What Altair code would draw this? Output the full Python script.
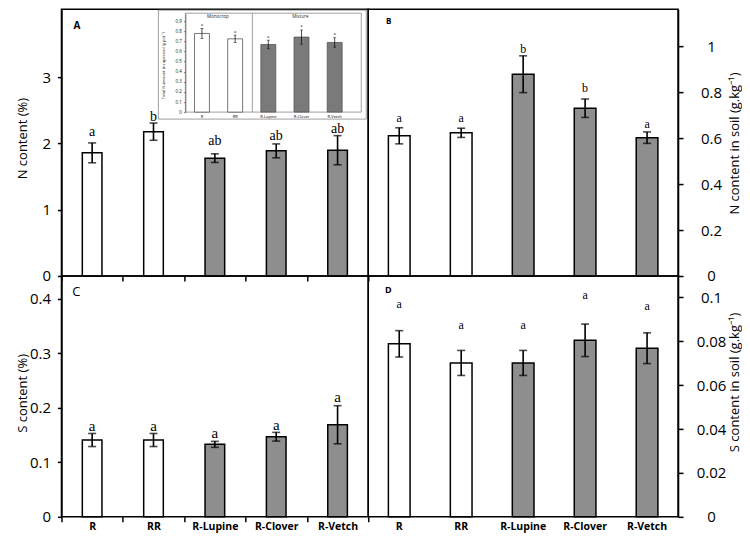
import altair as alt
import pandas as pd

cats = ["R", "RR", "R-Lupine", "R-Clover", "R-Vetch"]
groups = ["Monocrop", "Monocrop", "Mixture", "Mixture", "Mixture"]

# Panel A: N content (%)
n_pct = [1.86, 2.18, 1.78, 1.89, 1.90]
n_pct_se = [0.15, 0.13, 0.065, 0.105, 0.22]
n_pct_letters = ["a", "b", "ab", "ab", "ab"]
n_pct_letter_y = [2.12, 2.34, 1.98, 2.06, 2.16]

# Panel B: N content in soil (g.kg-1)
n_soil = [0.61, 0.623, 0.878, 0.73, 0.602]
n_soil_se = [0.035, 0.02, 0.08, 0.04, 0.025]
n_soil_letters = ["a", "a", "b", "b", "a"]
n_soil_letter_y = [0.672, 0.672, 0.97, 0.80, 0.645]

# Panel C: S content (%)
s_pct = [0.141, 0.141, 0.133, 0.147, 0.169]
s_pct_se = [0.012, 0.012, 0.0055, 0.008, 0.035]
s_pct_letters = ["a", "a", "a", "a", "a"]
s_pct_letter_y = [0.158, 0.158, 0.144, 0.159, 0.21]

# Panel D: S content in soil (g.kg-1)
s_soil = [0.0788, 0.0701, 0.0701, 0.0804, 0.0768]
s_soil_se = [0.006, 0.0057, 0.0057, 0.0074, 0.007]
s_soil_letters = ["a", "a", "a", "a", "a"]
s_soil_letter_y = [0.0953, 0.0854, 0.0854, 0.0991, 0.0942]

# Inset: total N amount (g.pot-1)
n_total = [0.779, 0.726, 0.67, 0.743, 0.69]
n_total_se = [0.05, 0.037, 0.043, 0.07, 0.047]
n_total_letters = ["a", "a", "a", "a", "a"]
n_total_letter_y = [0.86, 0.795, 0.74, 0.855, 0.77]

# ticks
a_ticks = [0, 1, 2, 3]
b_ticks = [0, 0.2, 0.4, 0.6, 0.8, 1]
c_ticks = [0, 0.1, 0.2, 0.3, 0.4]
d_ticks = [0, 0.02, 0.04, 0.06, 0.08, 0.1]
inset_ticks = [0, 0.1, 0.2, 0.3, 0.4, 0.5, 0.6, 0.7, 0.8, 0.9]

W_L, W_R = 307, 310
H_T, H_B = 267, 241
FONT = "Open Sans"
SERIF = "Liberation Serif"


def make_df(vals, se, letters, ly):
    return pd.DataFrame({
        "cat": cats, "grp": groups, "val": vals,
        "lo": [v - s for v, s in zip(vals, se)],
        "hi": [v + s for v, s in zip(vals, se)],
        "letter": letters, "ly": ly,
    })


def bar_layers(df, xe, ye, fill_range, bar_stroke, bar_sw, err_sw, cap_size,
               letter_fs, letter_baseline="alphabetic", band_frac=None):
    base = alt.Chart(df)
    if band_frac is None:
        bar_mark = base.mark_bar(stroke=bar_stroke, strokeWidth=bar_sw)
    else:
        bar_mark = base.mark_bar(stroke=bar_stroke, strokeWidth=bar_sw,
                                 width=alt.RelativeBandSize(band_frac))
    bars = bar_mark.encode(
        x=xe(), y=ye("val"),
        fill=alt.Fill("grp:N", scale=alt.Scale(domain=["Monocrop", "Mixture"],
                                               range=fill_range), legend=None))
    err = base.mark_rule(color="black", strokeWidth=err_sw).encode(
        x=xe(), y=ye("lo"), y2="hi:Q")
    cap1 = base.mark_tick(color="black", thickness=err_sw, size=cap_size,
                          orient="horizontal").encode(x=xe(), y=ye("lo"))
    cap2 = base.mark_tick(color="black", thickness=err_sw, size=cap_size,
                          orient="horizontal").encode(x=xe(), y=ye("hi"))
    txt = base.mark_text(font=SERIF, fontSize=letter_fs, baseline=letter_baseline,
                         color="black").encode(x=xe(), y=ye("ly"), text="letter:N")
    return [bars, err, cap1, cap2, txt]


def left_axis(values, title, title_y):
    return alt.Axis(orient="left", values=values, format="~g", title=title,
                    titleX=-39, titleY=title_y,
                    titleAngle=270, titleAlign="center", titleBaseline="middle",
                    titleFont=FONT, titleFontSize=13, titleFontWeight="normal",
                    titleColor="black", labelFont=FONT, labelFontSize=15,
                    labelColor="black", labelPadding=7, tickSize=4, tickColor="black",
                    tickWidth=1.5, domainColor="black", domainWidth=1.5, grid=False,
                    labelFlush=False, labelOverlap=False)


def right_axis(values, title, title_y):
    return alt.Axis(orient="right", values=values, format="~g", title=title,
                    titleX=56, titleY=title_y,
                    titleAngle=270, titleAlign="center", titleBaseline="middle",
                    titleFont=FONT, titleFontSize=13, titleFontWeight="normal",
                    titleColor="black", labelFont=FONT, labelFontSize=15,
                    labelColor="black", labelAlign="center", labelPadding=28,
                    tickSize=5, tickColor="black", tickWidth=1.5, domainColor="black",
                    domainWidth=1.5, grid=False, labelFlush=False, labelOverlap=False)


def panel(df, W, H, ydom, yaxis, xaxis, frac, letter_fs, label, lx, ly, lfs, lweight):
    def xe():
        return alt.X("cat:N", sort=cats, title=None, axis=xaxis,
                     scale=alt.Scale(domain=cats, paddingInner=0, paddingOuter=0))

    def ye(f):
        return alt.Y(f + ":Q", axis=yaxis,
                     scale=alt.Scale(domain=ydom, nice=False, zero=True))

    layers = bar_layers(df, xe, ye, ["white", "#8e8e8e"], "black", 1.5, 1.6, 8,
                        letter_fs, band_frac=frac)
    lab = alt.Chart(pd.DataFrame({"t": [label]})).mark_text(
        font=FONT, fontSize=lfs, fontWeight=lweight, align="center", baseline="middle",
        color="black").encode(x=alt.value(lx), y=alt.value(ly), text="t:N")
    return layers + [lab]


x_ticks_only = alt.Axis(orient="bottom", labels=False, ticks=True, tickBand="extent",
                        tickSize=5, tickColor="black", tickWidth=1.5, domain=False,
                        grid=False, title=None)
x_labels_c = alt.Axis(orient="bottom", labels=True, labelAngle=0, labelFont=FONT,
                      labelFontSize=10.5, labelFontWeight="bold", labelColor="black",
                      labelPadding=0, ticks=True, tickBand="extent", tickSize=5,
                      tickColor="black", tickWidth=1.5, domain=False, grid=False,
                      title=None, labelOverlap=False)
x_labels_d = alt.Axis(orient="bottom", labels=True, labelAngle=0, labelFont=FONT,
                      labelFontSize=10.5, labelFontWeight="bold", labelColor="black",
                      labelPadding=5, ticks=False, domain=False, grid=False,
                      title=None, labelOverlap=False)

# ---- Panel A with inset ----
dfA = make_df(n_pct, n_pct_se, n_pct_letters, n_pct_letter_y)
mainA = panel(dfA, W_L, H_T, [0, 4.03], left_axis(a_ticks, "N content (%)", 129),
              x_ticks_only, 0.32, 14, "A", 15.5, 17, 10, "bold")

dfI = make_df(n_total, n_total_se, n_total_letters, n_total_letter_y)


def xi():
    return alt.X("cat:N", sort=cats, title=None,
                 scale=alt.Scale(domain=cats, range=[124, 290], paddingInner=0.55,
                                 paddingOuter=0.275),
                 axis=alt.Axis(orient="bottom", offset=-(H_T - 103), labelFont=FONT,
                               labelFontSize=4, labelAngle=0, labelColor="black",
                               labelPadding=2, ticks=False, domain=False, grid=False,
                               title=None, zindex=1, labelOverlap=False))


def yi(f):
    return alt.Y(f + ":Q",
                 scale=alt.Scale(domain=[0, 0.98], range=[103, 4], nice=False, zero=True),
                 axis=alt.Axis(orient="left", offset=-124, values=inset_ticks,
                               format="~g",
                               labelFont=FONT, labelFontSize=4.5, labelColor="#222",
                               labelPadding=2, tickSize=2, tickColor="#666",
                               domainColor="#666", domainWidth=0.8, tickWidth=0.8,
                               grid=False, zindex=1, labelFlush=False,
                               labelOverlap=False,
                               title="Total N amount in rapeseed (g.pot⁻¹)",
                               titleFont=FONT, titleFontSize=4, titleFontWeight="normal",
                               titleColor="#222", titleAngle=270, titleAlign="center",
                               titleBaseline="middle", titleX=-22, titleY=56))


one = pd.DataFrame({"k": [0]})
outer = alt.Chart(one).mark_rect(fill="white", stroke="#888", strokeWidth=0.8).encode(
    x=alt.value(97), x2=alt.value(305), y=alt.value(1), y2=alt.value(110))
inner = alt.Chart(one).mark_rect(fill="white", stroke="#888", strokeWidth=0.8).encode(
    x=alt.value(124), x2=alt.value(300), y=alt.value(4), y2=alt.value(103))
divider = alt.Chart(one).mark_rule(color="#888", strokeWidth=0.8).encode(
    x=alt.value(191), y=alt.value(4), y2=alt.value(103))
headers = alt.Chart(pd.DataFrame({"t": ["Monocrop", "Mixture"],
                                  "px": [156.5, 239]})).mark_text(
    font=FONT, fontSize=4.5, color="#222", baseline="middle").encode(
    x=alt.X("px:Q", scale=None), y=alt.value(8), text="t:N")
inset_layers = [outer, inner, divider, headers] + bar_layers(
    dfI, xi, yi, ["white", "#7a7a7a"], "#555", 0.8, 0.7, 3, 4.5, "middle")

A = alt.layer(alt.layer(*mainA), alt.layer(*inset_layers)).resolve_scale(
    x="independent", y="independent", fill="independent").properties(width=W_L, height=H_T)

# ---- Panel B ----
dfB = make_df(n_soil, n_soil_se, n_soil_letters, n_soil_letter_y)
B = alt.layer(*panel(dfB, W_R, H_T, [0, 1.161],
                     right_axis(b_ticks, "N content in soil (g.kg⁻¹)", 134),
                     None, 0.35, 12, "B", 20.5, 12.5, 8, "bold")).properties(
    width=W_R, height=H_T)

# ---- Panel C ----
dfC = make_df(s_pct, s_pct_se, s_pct_letters, s_pct_letter_y)
C = alt.layer(*panel(dfC, W_L, H_B, [0, 0.442], left_axis(c_ticks, "S content (%)", 117),
                     x_labels_c, 0.32, 15, "C", 15, 16, 13, "normal")).properties(
    width=W_L, height=H_B)

# ---- Panel D ----
dfD = make_df(s_soil, s_soil_se, s_soil_letters, s_soil_letter_y)
D = alt.layer(*panel(dfD, W_R, H_B, [0, 0.1097],
                     right_axis(d_ticks, "S content in soil (g.kg⁻¹)", 106),
                     x_labels_d, 0.35, 12, "D", 20, 14.5, 9, "bold")).properties(
    width=W_R, height=H_B)

chart = alt.concat(A, B, C, D, columns=2, spacing=0, bounds="flush").properties(
    padding={"left": 7.5, "top": 0, "right": 0, "bottom": 0},
    background="white",
).configure_view(stroke="black", strokeWidth=1.5)

chart.save("out.html", embed_options={"renderer": "svg", "actions": False})
